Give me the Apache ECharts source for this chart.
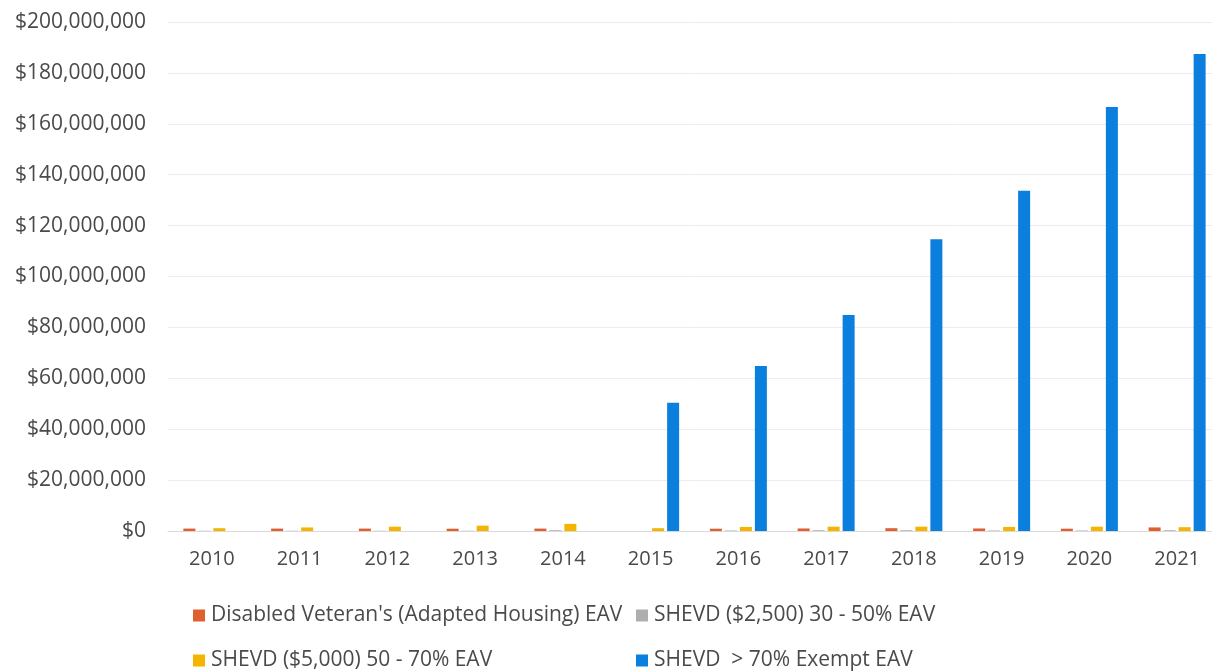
<!DOCTYPE html>
<html>
<head>
<meta charset="utf-8">
<script src="https://cdn.jsdelivr.net/npm/echarts@6/dist/echarts.min.js"></script>
<style>
  html, body { margin: 0; padding: 0; background: #fff; overflow: hidden; }
  /* a bit wider than the window: the plot runs off the right edge in the original */
  #chart { width: 1221px; height: 671px; }
</style>
</head>
<body>
<div id="chart"></div>
<script>
// years on the x axis
const years = ['2010', '2011', '2012', '2013', '2014', '2015', '2016', '2017', '2018', '2019', '2020', '2021']
// values in dollars (millions * 1e6)
const adaptedHousing = [0.95, 0.95, 0.95, 0.9, 0.95, 0, 0.9, 1.0, 1.1, 1.0, 0.9, 1.4].map(v => v * 1e6)
const shevd2500 = [0.1, 0.1, 0.1, 0.1, 0.3, 0, 0.2, 0.3, 0.3, 0.2, 0.2, 0.3].map(v => v * 1e6)
const shevd5000 = [1.1, 1.4, 1.7, 2.1, 2.8, 1.1, 1.6, 1.7, 1.7, 1.6, 1.7, 1.5].map(v => v * 1e6)
const shevd70 = [0, 0, 0, 0, 0, 50.4, 64.8, 84.9, 114.6, 133.7, 166.6, 187.4].map(v => v * 1e6)
const seriesNames = [
  "Disabled Veteran's (Adapted Housing) EAV",
  'SHEVD ($2,500) 30 - 50% EAV',
  'SHEVD ($5,000) 50 - 70% EAV',
  'SHEVD  > 70% Exempt EAV'
]
const colors = ['#DF5F2E', '#AEAEAE', '#F4B400', '#0A7FDD']

const font = '"Open Sans", "Noto Sans", sans-serif'
const el = document.getElementById('chart')
const chart = echarts.init(el)

function fmt(v) {
  return '$' + v.toLocaleString('en-US')
}

// one legend per entry so the two columns line up like the original
function legendAt(name, left, top) {
  return {
    left,
    top,
    data: [name],
    itemWidth: 12,
    itemHeight: 12,
    icon: 'rect',
    textStyle: { color: '#4a4a4a', fontSize: 21, fontFamily: font, padding: [0, 0, 0, 1] }
  }
}

const option = {
  animation: false,
  color: colors,
  textStyle: { fontFamily: font },
  grid: {
    left: 168,
    top: 22,
    right: 0,
    height: 509
  },
  legend: [
    legendAt(seriesNames[0], 188, 600),
    legendAt(seriesNames[1], 631, 600),
    legendAt(seriesNames[2], 188, 645),
    legendAt(seriesNames[3], 631, 645)
  ],
  xAxis: {
    type: 'category',
    data: years,
    axisLine: { lineStyle: { color: '#d9d9d9' } },
    axisTick: { show: false },
    axisLabel: { color: '#4a4a4a', fontSize: 20, fontFamily: font, margin: 18 }
  },
  yAxis: {
    type: 'value',
    min: 0,
    max: 200000000,
    interval: 20000000,
    axisLine: { show: false },
    axisTick: { show: false },
    axisLabel: { color: '#4a4a4a', fontSize: 21, fontFamily: font, margin: 22, formatter: fmt },
    splitLine: { lineStyle: { color: '#ececec' } }
  },
  series: [
    { name: seriesNames[0], type: 'bar', data: adaptedHousing, barWidth: 12, barGap: '25%' },
    { name: seriesNames[1], type: 'bar', data: shevd2500, barWidth: 12, barGap: '25%' },
    { name: seriesNames[2], type: 'bar', data: shevd5000, barWidth: 12, barGap: '25%' },
    { name: seriesNames[3], type: 'bar', data: shevd70, barWidth: 12, barGap: '25%' }
  ]
}
chart.setOption(option)
</script>
</body>
</html>
